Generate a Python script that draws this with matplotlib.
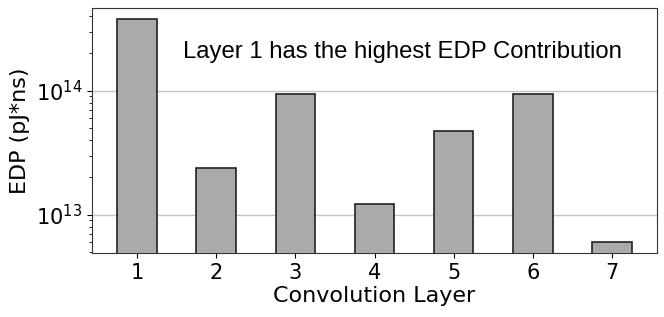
import matplotlib
matplotlib.use("Agg")
import matplotlib.pyplot as plt
import numpy as np

layers = ["1", "2", "3", "4", "5", "6", "7"]
edp = [3.77e14, 2.4e13, 9.46e13, 1.21e13, 4.71e13, 9.46e13, 6.05e12]

fig = plt.figure(figsize=(6.64, 3.17), dpi=100)
ax = fig.add_axes([92/664, 1-253/317, (657-92)/664, (253-8)/317])
x = np.arange(len(layers))
ax.bar(x, edp, width=0.5, color="#aaaaaa", edgecolor="#222222", linewidth=1.2, zorder=3)
ax.set_yscale("log")
ax.set_ylim(4.9e12, 4.66e14)
ax.set_xlim(-0.57, 6.57)
ax.set_xticks(x)
ax.set_xticklabels(layers, fontsize=15)
ax.tick_params(axis="y", labelsize=15)
ax.grid(axis="y", which="major", color="#c4c4c4", linewidth=1, zorder=0)
ax.set_xlabel("Convolution Layer", fontsize=16, labelpad=2)
ax.set_ylabel("EDP (pJ*ns)", fontsize=16)
for s in ax.spines.values():
    s.set_color("#333333")
ax.text(0.55, 0.82, "Layer 1 has the highest EDP Contribution", transform=ax.transAxes,
        fontsize=17.2, family="Liberation Sans", ha="center", va="center")
fig.savefig("out.png", dpi=100)
